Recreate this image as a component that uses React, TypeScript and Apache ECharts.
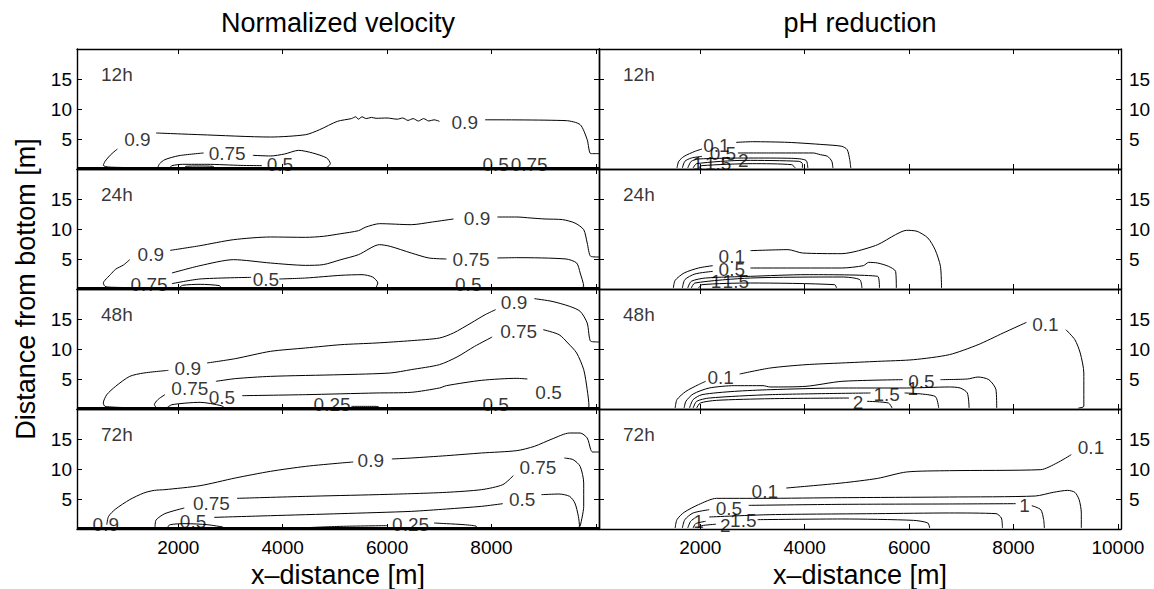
import React, { useEffect, useRef } from "react";
import * as echarts from "echarts";

const FONT = '"Liberation Sans", Arial, Helvetica, sans-serif';

const columnTitles = ["Normalized velocity", "pH reduction"];
const timeLabels = ["12h", "24h", "48h", "72h"];
const xTicks = [2000, 4000, 6000, 8000, 10000];
const xLabelsLeft = [2000, 4000, 6000, 8000];
const yTicks = [5, 10, 15];
const X_MIN = 60;
const X_MAX = 10060;
const Y_MIN = 0;
const Y_MAX = 20;

type Seg = number[][];
type Lab = [number, number, string];

// ---------- Normalized velocity ----------
const vel12h: Seg[] = [
  [[1575, 6.0], [2418, 5.72], [3766, 5.33], [4441, 5.72], [4710, 6.56], [5047, 7.94], [5317, 8.4], [5400, 8.7], [5450, 8.3], [5520, 8.7], [5600, 8.4], [5700, 8.6], [5789, 8.45], [6000, 8.5], [6193, 8.3], [6300, 8.5], [6400, 8.1], [6500, 8.4], [6600, 8.0], [6700, 8.4], [6800, 8.0], [6900, 8.2], [7003, 7.95]],
  [[7879, 8.2], [9430, 8.06], [9699, 7.39], [9834, 4.89], [9902, 2.56], [10060, 2.56]],
  [[834, 3.33], [733, 2.6], [665, 2.0], [598, 1.28], [564, 0.61], [665, 0.33], [1204, 0.22]],
  [[60, 0.15], [10060, 0.15]],
  [[1609, 0.28], [1643, 0.89], [1744, 1.56], [2013, 2.22], [2485, 2.67]],
  [[3429, 2.28], [3766, 2.17], [4036, 2.5], [4306, 3.11], [4575, 2.67], [4845, 1.83], [4913, 0.89], [4845, 0.28], [4710, 0.17]],
  [[1845, 0.28], [1879, 0.56], [2081, 0.78], [2553, 0.78], [3200, 0.6], [3600, 0.56]],
  [[2115, 0.17], [2150, 0.45], [2400, 0.5], [2654, 0.45], [2700, 0.2]],
];
const vel12hLabels: Lab[] = [
  [1218, 4.89, "0.9"], [7488, 7.78, "0.9"], [2937, 2.56, "0.75"], [3948, 0.75, "0.5"], [8081, 0.7, "0.5"], [8722, 0.7, "0.75"],
];

const vel24h: Seg[] = [
  [[1845, 6.44], [2418, 7.22], [3058, 8.22], [3766, 8.67], [4441, 8.61], [4778, 8.78], [5115, 9.22], [5452, 9.72], [5587, 10.3], [5856, 10.89], [6463, 10.72], [6868, 11.17], [7272, 11.67]],
  [[8115, 12.0], [8486, 12.0], [8755, 11.83], [9025, 11.67], [9362, 11.56], [9598, 11.0], [9767, 9.89], [9834, 7.67], [9902, 5.44], [10060, 5.33]],
  [[1070, 4.89], [950, 4.0], [800, 3.3], [700, 2.4], [600, 1.5], [564, 1.0], [598, 0.44], [700, 0.3], [1200, 0.22]],
  [[60, 0.15], [10060, 0.15]],
  [[1879, 2.67], [2418, 3.89], [3058, 4.89], [3766, 4.33], [4441, 3.94], [4778, 4.06], [5115, 4.89], [5452, 5.72], [5856, 7.39], [6059, 7.11], [6463, 6.0], [6800, 5.17], [7137, 5.0]],
  [[8115, 5.17], [8486, 5.22], [9430, 5.0], [9632, 4.33], [9699, 2.67], [9767, 0.44], [9699, 0.17]],
  [[1879, 0.89], [2418, 1.67], [3396, 1.94]],
  [[3935, 1.67], [4441, 1.83], [5115, 2.28], [5520, 2.39], [5722, 2.0], [5823, 1.0], [5789, 0.28]],
  [[2013, 0.17], [2081, 0.61], [2418, 0.78], [2790, 0.56], [2823, 0.17]],
];
const vel24hLabels: Lab[] = [
  [1474, 5.72, "0.9"], [7724, 11.83, "0.9"], [7609, 5.0, "0.75"], [1440, 0.7, "0.75"], [3679, 1.56, "0.5"], [7555, 0.7, "0.5"],
];

const vel48h: Seg[] = [
  [[2553, 7.67], [3092, 8.39], [3766, 9.61], [4441, 10.17], [5115, 10.72], [5789, 11.0], [6463, 11.39], [7003, 11.83], [7272, 12.67], [7609, 14.33], [7879, 15.72], [8081, 16.56]],
  [[8823, 18.39], [9160, 17.94], [9497, 17.11], [9699, 16.28], [9834, 14.33], [9902, 11.28], [10060, 11.17]],
  [[1811, 6.44], [1339, 6.0], [1070, 5.44], [800, 3.78], [631, 2.39], [564, 1.0], [598, 0.44], [1070, 0.22]],
  [[60, 0.15], [10060, 0.15]],
  [[2721, 4.61], [3092, 5.06], [3766, 5.44], [5115, 5.72], [6059, 6.0], [6463, 6.56], [7003, 7.39], [7340, 8.67], [7677, 10.44], [8014, 12.0]],
  [[8991, 13.22], [9295, 12.39], [9463, 11.0], [9632, 9.33], [9767, 6.56], [9834, 3.22], [9868, 0.44], [9834, 0.17]],
  [[1744, 2.39], [1609, 1.56], [1542, 0.72], [1575, 0.28]],
  [[3227, 2.22], [4441, 2.39], [5789, 2.67], [6463, 2.78], [7003, 3.5], [7137, 3.89], [7812, 4.78], [8486, 5.11], [8688, 5.0]],
  [[1778, 0.17], [1879, 0.72], [2418, 1.11], [2823, 0.56], [2890, 0.17]],
  [[5317, 0.44], [5789, 0.44], [5850, 0.3]],
];
const vel48hLabels: Lab[] = [
  [2182, 6.83, "0.9"], [8432, 17.67, "0.9"], [2222, 3.5, "0.75"], [8520, 12.94, "0.75"], [2836, 2.0, "0.5"], [9093, 2.67, "0.5"], [4946, 0.7, "0.25"], [8081, 0.7, "0.5"],
];

const vel72h: Seg[] = [
  [[631, 0.72], [665, 2.11], [800, 3.33], [1070, 4.89], [1339, 6.0], [1542, 6.44], [1744, 6.56], [2418, 7.22], [3092, 8.5], [3766, 9.61], [4441, 10.44], [5115, 11.0], [5351, 11.17]],
  [[6092, 11.67], [6463, 11.83], [7137, 12.22], [7812, 12.67], [8486, 13.06], [8823, 13.78], [9160, 15.0], [9497, 16.0], [9699, 16.0], [9834, 15.17], [9902, 13.22], [9935, 12.83], [10060, 12.83]],
  [[60, 0.15], [10060, 0.15]],
  [[3126, 5.11], [4441, 5.44], [5789, 5.72], [6463, 5.89], [7137, 6.11], [7812, 6.56], [8216, 7.39], [8418, 8.89]],
  [[9396, 11.83], [9564, 11.56], [9699, 10.44], [9767, 7.67], [9767, 3.78], [9699, 0.44]],
  [[2115, 3.5], [1744, 2.56], [1575, 1.5], [1555, 0.28]],
  [[2688, 1.94], [3766, 2.22], [5115, 2.56], [6463, 2.94], [7137, 3.33], [7812, 3.78], [8216, 4.22]],
  [[8958, 5.72], [9295, 5.83], [9497, 5.44], [9598, 4.33], [9665, 2.11], [9686, 0.44], [9632, 0.11]],
  [[1778, 0.17], [1845, 0.72], [2148, 0.89], [2553, 0.72], [2856, 0.33]],
  [[4441, 0.22], [5115, 0.44], [6000, 0.56]],
  [[6901, 1.0], [7137, 0.89], [7474, 0.72], [7710, 0.44], [7677, 0.11]],
];
const vel72hLabels: Lab[] = [
  [5688, 11.44, "0.9"], [8890, 10.17, "0.75"], [8587, 4.89, "0.5"], [2634, 4.17, "0.75"], [2283, 1.28, "0.5"], [6450, 0.7, "0.25"], [611, 0.7, "0.9"],
];

// ---------- pH reduction ----------
const ph12h: Seg[] = [
  [[1554, 0.17], [1588, 1.28], [1691, 2.11], [1897, 2.94], [2034, 3.33]],
  [[2687, 4.44], [2996, 4.55], [3682, 4.44], [4369, 4.06], [4712, 3.78], [4815, 3.22], [4863, 1.56], [4884, 0.17]],
  [[1657, 0.17], [1705, 1.28], [1828, 1.83], [2034, 2.11]],
  [[2721, 2.67], [3339, 2.67], [4163, 2.67], [4300, 2.39], [4438, 2.11], [4520, 1.28], [4541, 0.17]],
  [[1760, 0.17], [1828, 1.28], [1966, 1.67], [2927, 1.83], [3751, 1.78], [4026, 1.44], [4060, 0.17]],
  [[1863, 0.17], [1931, 0.89], [2858, 1.44], [3888, 1.28], [3957, 0.89], [3957, 0.17]],
  [[1966, 0.17], [2034, 0.56], [2996, 0.89], [3751, 0.72], [3820, 0.17]],
];
const ph12hLabels: Lab[] = [
  [2309, 3.89, "0.1"], [2433, 2.56, "0.5"], [1952, 0.9, "1"], [2343, 1.0, "1.5"], [2824, 1.44, "2"],
];

const ph24h: Seg[] = [
  [[1485, 0.17], [1519, 1.44], [1691, 2.67], [1966, 3.5], [2240, 3.89]],
  [[2961, 6.39], [3682, 6.56], [3957, 6.0], [4712, 5.89], [4987, 6.28], [5399, 7.39], [5742, 9.06], [5949, 9.78], [6155, 9.61], [6360, 8.5], [6498, 6.56], [6601, 3.78], [6622, 0.17]],
  [[1657, 0.17], [1705, 1.56], [1897, 2.5], [2240, 2.94]],
  [[2961, 3.5], [4712, 3.5], [5124, 3.89], [5227, 4.44], [5399, 4.33], [5605, 3.78], [5742, 2.94], [5756, 0.17]],
  [[1760, 0.17], [1828, 1.28], [2100, 1.83], [2961, 2.11], [4026, 2.39], [5399, 2.11], [5433, 0.17]],
  [[1828, 0.17], [1897, 1.0], [2961, 1.83], [4712, 2.0], [5056, 1.56], [5097, 0.17]],
  [[1966, 0.17], [2034, 0.72], [2961, 1.0], [4575, 0.72], [4610, 0.17]],
];
const ph24hLabels: Lab[] = [
  [2604, 5.44, "0.1"], [2604, 3.33, "0.5"], [2300, 1.2, "1"], [2680, 1.2, "1.5"],
];

const ph48h: Seg[] = [
  [[1519, 0.17], [1554, 1.56], [1725, 2.94], [1966, 4.06], [2103, 4.61]],
  [[2755, 5.83], [3339, 6.83], [4026, 7.39], [4712, 7.67], [5399, 7.94], [6086, 8.22], [6773, 9.06], [7322, 10.72], [7803, 12.67], [8249, 14.44]],
  [[9004, 13.22], [9176, 11.56], [9279, 9.33], [9348, 6.0], [9348, 0.44], [9245, 0.17]],
  [[1691, 0.17], [1725, 1.28], [1863, 2.5], [2172, 3.5], [2652, 3.89], [3202, 3.89], [3339, 3.67], [4026, 3.78], [4712, 4.61], [5880, 4.89]],
  [[6601, 4.89], [7116, 5.0], [7322, 5.33], [7528, 4.89], [7665, 3.22], [7679, 0.17]],
  [[1794, 0.17], [1863, 1.56], [2034, 2.39], [2652, 2.94], [3339, 3.22], [4712, 3.5], [5949, 3.5], [6773, 3.67], [6979, 3.5], [7116, 2.67], [7150, 0.17]],
  [[1863, 0.17], [1931, 1.28], [2172, 1.83], [3339, 2.39], [5262, 2.67]],
  [[5914, 2.67], [6498, 2.11], [6567, 0.17]],
  [[1931, 0.17], [2000, 1.0], [2309, 1.44], [3339, 1.72], [4850, 1.83]],
  [[5193, 1.28], [5605, 1.0], [5674, 0.17]],
];
const ph48hLabels: Lab[] = [
  [2391, 5.17, "0.1"], [8613, 14.06, "0.1"], [6237, 4.61, "0.5"], [6070, 3.4, "1"], [5571, 2.39, "1.5"], [5021, 1.11, "2"],
];

const ph72h: Seg[] = [
  [[1519, 0.17], [1554, 1.56], [1691, 2.78], [1966, 4.06], [2309, 5.11], [3202, 5.11], [4712, 5.22], [6773, 5.33], [8420, 5.5], [8763, 6.11], [9038, 6.44], [9176, 6.11], [9258, 4.89], [9300, 2.67], [9300, 0.17]],
  [[3648, 6.83], [4712, 7.67], [5399, 8.44], [5949, 9.5], [6773, 9.72], [8523, 9.89], [8832, 11.0], [9107, 12.39]],
  [[1657, 0.17], [1705, 1.56], [1863, 2.67], [2172, 3.22]],
  [[2927, 3.94], [4712, 4.11], [6773, 4.17], [8042, 4.22]],
  [[8351, 3.89], [8523, 3.22], [8578, 1.56], [8592, 0.17]],
  [[1760, 0.17], [1815, 1.28], [1897, 1.83]],
  [[2172, 2.0], [3339, 2.39], [5399, 2.56], [6773, 2.67], [7665, 2.56], [7768, 1.83], [7789, 0.17]],
  [[1863, 0.17], [1911, 0.89], [2103, 1.28]],
  [[3099, 1.56], [4712, 1.67], [6086, 1.44], [6360, 1.0], [6395, 0.17]],
  [[1952, 0.17], [2034, 0.56], [2300, 0.8]],
];
const ph72hLabels: Lab[] = [
  [3236, 6.28, "0.1"], [9485, 13.61, "0.1"], [2549, 3.5, "0.5"], [8214, 4.0, "1"], [1966, 1.28, "1"], [2480, 0.56, "2"], [2824, 1.39, "1.5"],
];

// panel order: row-major, left column = velocity, right = pH
const panelLines: Seg[][] = [vel12h, ph12h, vel24h, ph24h, vel48h, ph48h, vel72h, ph72h];
const panelLabels: Lab[][] = [vel12hLabels, ph12hLabels, vel24hLabels, ph24hLabels, vel48hLabels, ph48hLabels, vel72hLabels, ph72hLabels];
const timeLabelPos: [number, number] = [520, 15.8];

const GRID_LEFT = [77, 599];
const GRID_W = 522;
const GRID_TOP = 49;
const ROW_H = 120;

function buildOption() {
  const grid: any[] = [];
  const xAxis: any[] = [];
  const yAxis: any[] = [];
  const series: any[] = [];
  const axisLine = { show: true, onZero: false, lineStyle: { color: "#000", width: 1.4 } };
  const tickStyle = { color: "#000", width: 1 };
  const fmt = (v: number) => String(v);
  const labelStyle = { color: "#000", fontSize: 19, fontFamily: FONT, formatter: fmt };

  for (let g = 0; g < 8; g++) {
    const row = Math.floor(g / 2);
    const col = g % 2;
    const last = row === 3;
    grid.push({ left: GRID_LEFT[col], top: GRID_TOP + row * ROW_H, width: GRID_W, height: ROW_H, containLabel: false });

    xAxis.push({
      type: "value", gridIndex: g, min: X_MIN, max: X_MAX, position: "bottom",
      axisLine, splitLine: { show: false },
      axisTick: { show: true, inside: true, length: 5, customValues: xTicks, lineStyle: tickStyle },
      axisLabel: { show: last, customValues: col === 0 ? xLabelsLeft : xTicks, margin: 9, ...labelStyle },
      name: last ? "x\u2013distance [m]" : "", nameLocation: "middle", nameGap: 32,
      nameTextStyle: { color: "#000", fontSize: 27, fontFamily: FONT },
    });
    xAxis.push({
      type: "value", gridIndex: g, min: X_MIN, max: X_MAX, position: "top",
      axisLine, splitLine: { show: false },
      axisTick: { show: true, inside: true, length: 5, customValues: xTicks, lineStyle: tickStyle },
      axisLabel: { show: false },
    });
    yAxis.push({
      type: "value", gridIndex: g, min: Y_MIN, max: Y_MAX, position: "left",
      axisLine, splitLine: { show: false },
      axisTick: { show: true, inside: true, length: 5, customValues: yTicks, lineStyle: tickStyle },
      axisLabel: { show: col === 0, customValues: yTicks, margin: 5, ...labelStyle },
    });
    yAxis.push({
      type: "value", gridIndex: g, min: Y_MIN, max: Y_MAX, position: "right",
      axisLine, splitLine: { show: false },
      axisTick: { show: true, inside: true, length: 5, customValues: yTicks, lineStyle: tickStyle },
      axisLabel: { show: col === 1, customValues: yTicks, margin: 8, ...labelStyle },
    });

    const xi = g * 2;
    const yi = g * 2;
    panelLines[g].forEach((seg) => {
      const isBottom = seg.length === 2 && seg[0][1] === 0.15;
      series.push({
        type: "line", xAxisIndex: xi, yAxisIndex: yi, data: seg,
        showSymbol: false, symbol: "none", smooth: 0.25, silent: true,
        lineStyle: { color: "#000", width: isBottom ? 2.2 : 1 },
      });
    });
    series.push({
      type: "scatter", xAxisIndex: xi, yAxisIndex: yi, silent: true,
      symbolSize: 1, itemStyle: { color: "rgba(0,0,0,0)" },
      data: panelLabels[g].map((l) => ({ name: l[2], value: [l[0], l[1]] })),
      label: { show: true, position: ["50%", "50%"], align: "center", verticalAlign: "middle", formatter: "{b}", color: "#000", fontSize: 19, fontFamily: FONT },
    });
    series.push({
      type: "scatter", xAxisIndex: xi, yAxisIndex: yi, silent: true,
      symbolSize: 1, itemStyle: { color: "rgba(0,0,0,0)" },
      data: [{ name: timeLabels[row], value: timeLabelPos }],
      label: { show: true, position: ["50%", "50%"], align: "left", verticalAlign: "middle", formatter: "{b}", color: "#000", fontSize: 19, fontFamily: FONT },
    });
  }

  const graphic: any[] = [
    { type: "text", x: 338, y: 23, style: { text: columnTitles[0], fontSize: 27, fontFamily: FONT, fill: "#000", align: "center", verticalAlign: "middle" } },
    { type: "text", x: 860, y: 23, style: { text: columnTitles[1], fontSize: 27, fontFamily: FONT, fill: "#000", align: "center", verticalAlign: "middle" } },
    { type: "text", x: 26, y: 289, rotation: Math.PI / 2, style: { text: "Distance from bottom [m]", fontSize: 27, fontFamily: FONT, fill: "#000", align: "center", verticalAlign: "middle" } },
  ];

  return { animation: false, backgroundColor: "#fff", textStyle: { fontFamily: FONT }, grid, xAxis, yAxis, series, graphic };
}

export default function App() {
  const ref = useRef<HTMLDivElement>(null);
  useEffect(() => {
    if (!ref.current) return;
    const chart = echarts.init(ref.current, undefined, { renderer: "svg" });
    chart.setOption(buildOption() as any);
    return () => chart.dispose();
  }, []);
  return <div ref={ref} style={{ position: "fixed", left: 0, top: 0, width: 1154, height: 589, background: "#fff" }} />;
}
